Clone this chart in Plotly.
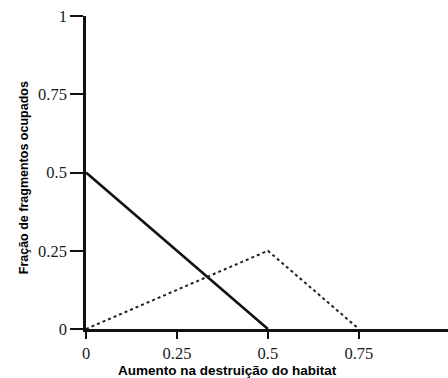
import plotly.graph_objects as go

# Habitat destruction (x) and fraction of occupied patches (y)
solid_x = [0, 0.5]
solid_y = [0.5, 0]
dotted_x = [0, 0.5, 0.75]
dotted_y = [0, 0.25, 0]

x_ticks = [0, 0.25, 0.5, 0.75]
x_tick_text = ["0", "0.25", "0.5", "0.75"]
y_ticks = [0, 0.25, 0.5, 0.75, 1]
y_tick_text = ["0", "0.25", "0.5", "0.75", "1"]

x_title = "Aumento na destruição do habitat"
y_title = "Fração de fragmentos ocupados"

fig = go.Figure()
fig.add_trace(go.Scatter(x=solid_x, y=solid_y, mode="lines",
                         line=dict(color="#111111", width=2.6), hoverinfo="skip"))
fig.add_trace(go.Scatter(x=dotted_x, y=dotted_y, mode="lines",
                         line=dict(color="#222222", width=2, dash="3px,3px"), hoverinfo="skip"))

tick_font = dict(family="Liberation Serif, Times New Roman, serif", size=16.5, color="#1a1a1a")

fig.update_layout(
    width=448, height=378,
    margin=dict(l=86, r=0, t=16, b=49),
    paper_bgcolor="white", plot_bgcolor="white",
    showlegend=False,
    xaxis=dict(
        range=[0, 0.995], tickvals=x_ticks, ticktext=x_tick_text,
        showline=True, linecolor="#111111", linewidth=2.5,
        ticks="outside", ticklen=7, tickwidth=2, tickcolor="#111111",
        showgrid=False, zeroline=False, tickfont=tick_font,
    ),
    yaxis=dict(
        range=[0, 1], tickvals=y_ticks, ticktext=y_tick_text,
        showline=True, linecolor="#111111", linewidth=2.5,
        ticks="outside", ticklen=13, tickwidth=2, tickcolor="#111111",
        showgrid=False, zeroline=False, tickfont=tick_font,
    ),
    annotations=[
        dict(text=f"<b>{x_title}</b>", xref="paper", yref="paper",
             x=0.392, y=-0.131, xanchor="center", yanchor="middle", showarrow=False,
             font=dict(family="Liberation Sans, Arial, sans-serif", size=13.5, color="#000000")),
        dict(text=f"<b>{y_title}</b>", xref="paper", yref="paper", textangle=-90,
             x=-0.171, y=0.482, xanchor="center", yanchor="middle", showarrow=False,
             font=dict(family="Liberation Sans, Arial, sans-serif", size=12.5, color="#000000")),
    ],
)

fig.write_html("out.html")
